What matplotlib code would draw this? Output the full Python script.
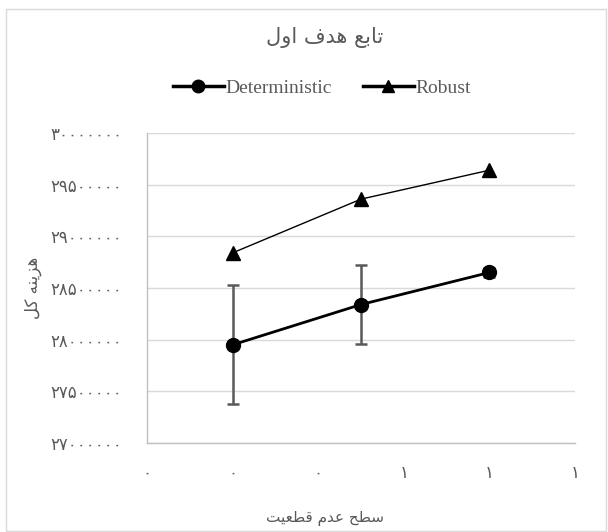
import matplotlib
matplotlib.use("Agg")
import matplotlib.pyplot as plt
from matplotlib.lines import Line2D
from matplotlib.patches import Rectangle
from matplotlib.ticker import FuncFormatter, MultipleLocator

# uncertainty level (x) and total cost (y)
levels = [0.2, 0.5, 0.8]
deterministic = [27950000, 28340000, 28650000]
deterministic_err = [575000, 385000, 40000]
robust = [28840000, 29360000, 29640000]

# Persian text, pre-shaped (presentation forms) in visual order
title_txt = "ﻝﻭﺍ ﻑﺪﻫ ﻊﺑﺎﺗ"
xlabel_txt = "ﺖﻴﻌﻄﻗ ﻡﺪﻋ ﺢﻄﺳ"
ylabel_txt = "ﻞﻛ ﻪﻨﻳﺰﻫ"

FA_DIGITS = str.maketrans("0123456789", "۰۱۲۳۴۵۶۷۸۹")
TXT = "#595959"
GRID = "#d9d9d9"

plt.rcParams["font.family"] = ["DejaVu Sans"]


def fa_int(v, pos=None):
    return str(int(round(v))).translate(FA_DIGITS)


fig = plt.figure(figsize=(6.08, 5.32), dpi=100)
fig.patches.append(Rectangle((6 / 608, 1 / 532), 600 / 608, 522 / 532,
                             transform=fig.transFigure, fill=False,
                             edgecolor=GRID, linewidth=1.0))
ax = fig.add_axes([147 / 608, 1 - 443 / 532, 428 / 608, 310 / 532])

ax.errorbar(levels, deterministic, yerr=deterministic_err, fmt="none",
            ecolor="#595959", elinewidth=1.8, capsize=4.5, capthick=1.8, zorder=2)
ax.plot(levels, deterministic, color="black", linewidth=2.0, marker="o",
        markersize=10, zorder=3)
ax.plot(levels, robust, color="black", linewidth=1.0, marker="^",
        markersize=10, zorder=3)

ax.set_xlim(0, 1.0)
ax.set_ylim(27000000, 30000000)
ax.xaxis.set_major_locator(MultipleLocator(0.2))
ax.yaxis.set_major_locator(MultipleLocator(500000))
ax.xaxis.set_major_formatter(FuncFormatter(fa_int))
ax.yaxis.set_major_formatter(FuncFormatter(fa_int))
ax.tick_params(length=0, labelsize=12, labelcolor=TXT)
ax.tick_params(axis="x", pad=15)
ax.tick_params(axis="y", pad=18)
ax.grid(axis="y", color=GRID, linewidth=1.0)
ax.set_axisbelow(True)
for side in ("top", "right"):
    ax.spines[side].set_visible(False)
for side in ("left", "bottom"):
    ax.spines[side].set_color("#bfbfbf")
    ax.spines[side].set_linewidth(1.0)

fig.text(325 / 608, 1 - 38 / 532, title_txt, ha="center", va="center",
         fontsize=15, color=TXT)
fig.text(325 / 608, 1 - 519 / 532, xlabel_txt, ha="center", va="center",
         fontsize=11, color=TXT)
fig.text(33 / 608, 1 - 288 / 532, ylabel_txt, ha="center", va="center",
         rotation=90, fontsize=12, color=TXT)

handles = [
    Line2D([], [], color="black", linewidth=2.5, marker="o", markersize=9),
    Line2D([], [], color="black", linewidth=2.5, marker="^", markersize=9),
]
fig.legend(handles, ["Deterministic", "Robust"], loc="center",
           bbox_to_anchor=(322 / 608, 1 - 88 / 532), ncol=2, frameon=False,
           handlelength=2.6, handletextpad=0.1, columnspacing=1.6,
           prop={"family": "Liberation Serif", "size": 14}, labelcolor=TXT)

fig.savefig("out.png", dpi=100)
